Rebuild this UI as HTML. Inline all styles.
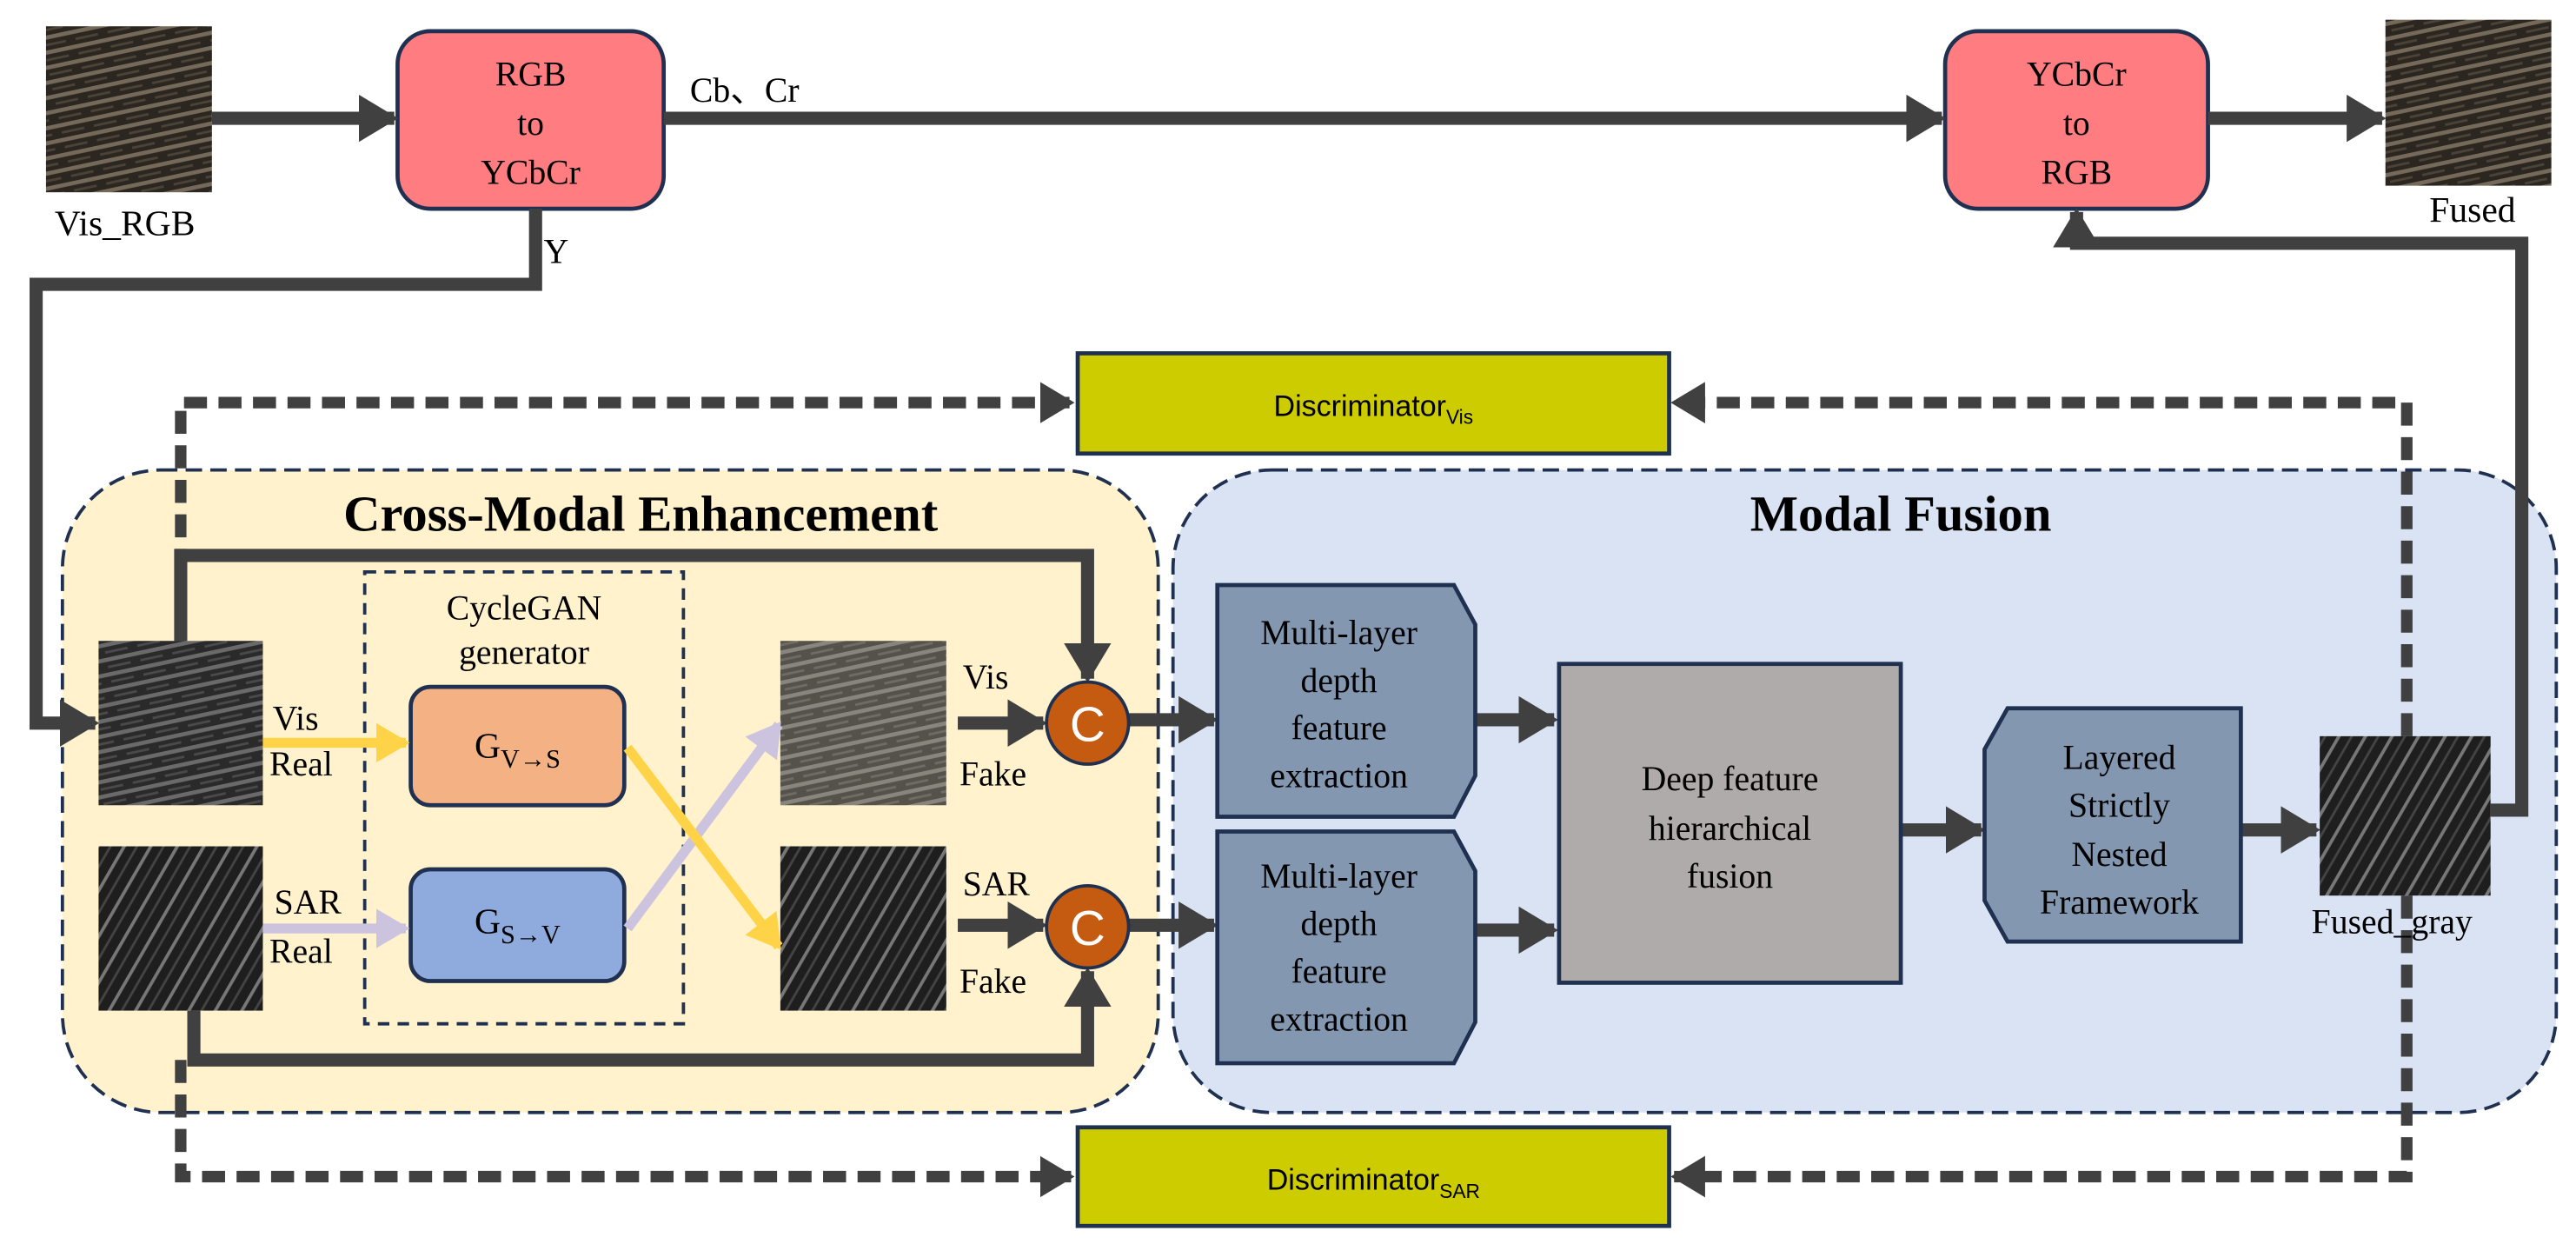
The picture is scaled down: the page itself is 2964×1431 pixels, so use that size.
<!DOCTYPE html>
<html><head><meta charset="utf-8"><style>
html,body{margin:0;padding:0;background:#fff;}
svg{display:block;}
text{font-family:"Liberation Serif",serif;fill:#000;}
.s{font-family:"Liberation Sans",sans-serif;}
</style></head><body>
<svg width="2964" height="1431" viewBox="0 0 1568 757" preserveAspectRatio="none" xmlns="http://www.w3.org/2000/svg">
<defs>
<marker id="ah" markerWidth="3" markerHeight="3.6" refX="2.7" refY="1.8" orient="auto" markerUnits="strokeWidth"><path d="M0,0 L3,1.8 L0,3.6 z" fill="#404040"/></marker>
<marker id="ay" markerWidth="3.4" markerHeight="4" refX="3" refY="2" orient="auto" markerUnits="strokeWidth"><path d="M0,0 L3.4,2 L0,4 z" fill="#FFD347"/></marker>
<marker id="al" markerWidth="3.4" markerHeight="4" refX="3" refY="2" orient="auto" markerUnits="strokeWidth"><path d="M0,0 L3.4,2 L0,4 z" fill="#CCC3DF"/></marker>
<pattern id="tex" width="20" height="9" patternUnits="userSpaceOnUse" patternTransform="rotate(-12)">
<rect width="20" height="9" fill="#2a2a2a"/><rect y="0" width="20" height="2.5" fill="#6a6a6a"/><rect y="5" width="14" height="1.5" fill="#4a4a4a"/></pattern>
<pattern id="texc" width="20" height="9" patternUnits="userSpaceOnUse" patternTransform="rotate(-12)">
<rect width="20" height="9" fill="#2b2620"/><rect y="0" width="20" height="2.5" fill="#75695a"/><rect y="5" width="14" height="1.5" fill="#4c4338"/></pattern>
<pattern id="texs" width="14" height="14" patternUnits="userSpaceOnUse" patternTransform="rotate(30)">
<rect width="14" height="14" fill="#1e1e1e"/><rect width="2" height="14" fill="#777"/><rect x="7" width="1.5" height="14" fill="#444"/></pattern>
</defs>

<rect x="38" y="286" width="667" height="391" rx="60" fill="#FFF2CC" stroke="#1F3050" stroke-width="2" stroke-dasharray="10,5"/>
<rect x="714" y="286" width="842" height="391" rx="60" fill="#DAE3F3" stroke="#1F3050" stroke-width="2" stroke-dasharray="10,5"/>
<text x="390" y="323" font-size="31" font-weight="bold" text-anchor="middle">Cross-Modal Enhancement</text>
<text x="1157" y="323" font-size="31" font-weight="bold" text-anchor="middle">Modal Fusion</text>

<rect x="28" y="16" width="101" height="101" fill="url(#texc)"/>
<text x="76" y="143" font-size="22" text-anchor="middle">Vis_RGB</text>
<rect x="1452" y="12" width="101" height="101" fill="url(#texc)"/>
<text x="1505" y="135" font-size="22" text-anchor="middle">Fused</text>

<rect x="242" y="19" width="162" height="108" rx="20" fill="#FF7C80" stroke="#1F3050" stroke-width="2.5"/>
<text x="323" y="52" font-size="21" text-anchor="middle">RGB</text>
<text x="323" y="82" font-size="21" text-anchor="middle">to</text>
<text x="323" y="112" font-size="21" text-anchor="middle">YCbCr</text>
<rect x="1184" y="19" width="160" height="108" rx="20" fill="#FF7C80" stroke="#1F3050" stroke-width="2.5"/>
<text x="1264" y="52" font-size="21" text-anchor="middle">YCbCr</text>
<text x="1264" y="82" font-size="21" text-anchor="middle">to</text>
<text x="1264" y="112" font-size="21" text-anchor="middle">RGB</text>
<text x="420" y="62" font-size="21" font-family="Liberation Serif, Noto Serif CJK SC, serif">Cb、Cr</text>
<text x="331" y="160" font-size="21">Y</text>

<g stroke="#404040" stroke-width="8" fill="none">
<line x1="129" y1="72" x2="240" y2="72" marker-end="url(#ah)"/>
<line x1="404" y1="72" x2="1182" y2="72" marker-end="url(#ah)"/>
<line x1="1344" y1="72" x2="1450" y2="72" marker-end="url(#ah)"/>
<polyline points="326,127 326,173 22,173 22,440 58,440" marker-end="url(#ah)"/>
<polyline points="1516,493 1535,493 1535,148 1264,148 1264,129" marker-end="url(#ah)"/>
<polyline points="110,390 110,338 662,338 662,413" marker-end="url(#ah)"/>
<polyline points="118,615 118,645 662,645 662,591" marker-end="url(#ah)"/>
<line x1="583" y1="440" x2="635" y2="440" marker-end="url(#ah)"/>
<line x1="583" y1="563" x2="635" y2="563" marker-end="url(#ah)"/>
<line x1="687" y1="438" x2="739" y2="438" marker-end="url(#ah)"/>
<line x1="687" y1="563" x2="739" y2="563" marker-end="url(#ah)"/>
<line x1="897" y1="438" x2="946" y2="438" marker-end="url(#ah)"/>
<line x1="897" y1="566" x2="946" y2="566" marker-end="url(#ah)"/>
<line x1="1157" y1="505" x2="1206" y2="505" marker-end="url(#ah)"/>
<line x1="1364" y1="505" x2="1410" y2="505" marker-end="url(#ah)"/>
</g>
<g stroke="#404040" stroke-width="7" fill="none" stroke-dasharray="14,7">
<polyline points="110,390 110,245 652,245" marker-end="url(#ah)"/>
<polyline points="1465,448 1465,245 1019,245" marker-end="url(#ah)"/>
<polyline points="110,645 110,716 652,716" marker-end="url(#ah)"/>
<polyline points="1465,545 1465,716 1019,716" marker-end="url(#ah)"/>
</g>

<rect x="656" y="215" width="360" height="61" fill="#CCCC00" stroke="#1F3050" stroke-width="2.5"/>
<text class="s" x="836" y="253" font-size="18" text-anchor="middle">Discriminator<tspan font-size="12" dy="5">Vis</tspan></text>
<rect x="656" y="686" width="360" height="60" fill="#CCCC00" stroke="#1F3050" stroke-width="2.5"/>
<text class="s" x="836" y="724" font-size="18" text-anchor="middle">Discriminator<tspan font-size="12" dy="5">SAR</tspan></text>

<rect x="222" y="348" width="194" height="275" fill="none" stroke="#1F3050" stroke-width="2" stroke-dasharray="7,5"/>
<text x="319" y="377" font-size="21" text-anchor="middle">CycleGAN</text>
<text x="319" y="404" font-size="21" text-anchor="middle">generator</text>
<rect x="250" y="418" width="130" height="72" rx="12" fill="#F4B183" stroke="#1F3050" stroke-width="2.5"/>
<text x="315" y="461" font-size="22" text-anchor="middle">G<tspan font-size="16" dy="6">V→S</tspan></text>
<rect x="250" y="529" width="130" height="68" rx="12" fill="#8FAADC" stroke="#1F3050" stroke-width="2.5"/>
<text x="315" y="568" font-size="22" text-anchor="middle">G<tspan font-size="16" dy="6">S→V</tspan></text>

<rect x="60" y="390" width="100" height="100" fill="url(#tex)"/>
<rect x="60" y="515" width="100" height="100" fill="url(#texs)"/>
<rect x="475" y="390" width="101" height="100" fill="url(#tex)" opacity="0.8"/>
<rect x="475" y="515" width="101" height="100" fill="url(#texs)"/>

<g stroke-width="6" fill="none">
<line x1="160" y1="452" x2="247" y2="452" stroke="#FFD347" marker-end="url(#ay)"/>
<line x1="160" y1="565" x2="247" y2="565" stroke="#CCC3DF" marker-end="url(#al)"/>
<line x1="382" y1="565" x2="474" y2="441" stroke="#CCC3DF" marker-end="url(#al)"/>
<line x1="382" y1="455" x2="474" y2="576" stroke="#FFD347" marker-end="url(#ay)"/>
</g>
<text x="166" y="444" font-size="21">Vis</text>
<text x="164" y="472" font-size="21">Real</text>
<text x="167" y="556" font-size="21">SAR</text>
<text x="164" y="586" font-size="21">Real</text>
<text x="586" y="419" font-size="21">Vis</text>
<text x="584" y="478" font-size="21">Fake</text>
<text x="586" y="545" font-size="21">SAR</text>
<text x="584" y="604" font-size="21">Fake</text>

<circle cx="662" cy="440" r="25" fill="#C55A11" stroke="#1F3050" stroke-width="2"/>
<text class="s" x="662" y="451" font-size="30" text-anchor="middle" style="fill:#fff">C</text>
<circle cx="662" cy="564" r="25" fill="#C55A11" stroke="#1F3050" stroke-width="2"/>
<text class="s" x="662" y="575" font-size="30" text-anchor="middle" style="fill:#fff">C</text>

<path d="M741,356 H885 L898,380 V472 L885,497 H741 Z" fill="#8497B0" stroke="#1F3050" stroke-width="2.5"/>
<text x="815" y="392" font-size="21" text-anchor="middle">Multi-layer</text>
<text x="815" y="421" font-size="21" text-anchor="middle">depth</text>
<text x="815" y="450" font-size="21" text-anchor="middle">feature</text>
<text x="815" y="479" font-size="21" text-anchor="middle">extraction</text>
<path d="M741,506 H885 L898,530 V622 L885,647 H741 Z" fill="#8497B0" stroke="#1F3050" stroke-width="2.5"/>
<text x="815" y="540" font-size="21" text-anchor="middle">Multi-layer</text>
<text x="815" y="569" font-size="21" text-anchor="middle">depth</text>
<text x="815" y="598" font-size="21" text-anchor="middle">feature</text>
<text x="815" y="627" font-size="21" text-anchor="middle">extraction</text>
<rect x="949" y="404" width="208" height="194" fill="#AFABAB" stroke="#1F3050" stroke-width="2.5"/>
<text x="1053" y="481" font-size="21" text-anchor="middle">Deep feature</text>
<text x="1053" y="511" font-size="21" text-anchor="middle">hierarchical</text>
<text x="1053" y="540" font-size="21" text-anchor="middle">fusion</text>
<path d="M1222,431 H1364 V573 H1222 L1208,548 V456 Z" fill="#8497B0" stroke="#1F3050" stroke-width="2.5"/>
<text x="1290" y="468" font-size="21" text-anchor="middle">Layered</text>
<text x="1290" y="497" font-size="21" text-anchor="middle">Strictly</text>
<text x="1290" y="527" font-size="21" text-anchor="middle">Nested</text>
<text x="1290" y="556" font-size="21" text-anchor="middle">Framework</text>
<rect x="1412" y="448" width="104" height="97" fill="url(#texs)"/>
<text x="1456" y="568" font-size="21" text-anchor="middle">Fused_gray</text>
</svg>
</body></html>
